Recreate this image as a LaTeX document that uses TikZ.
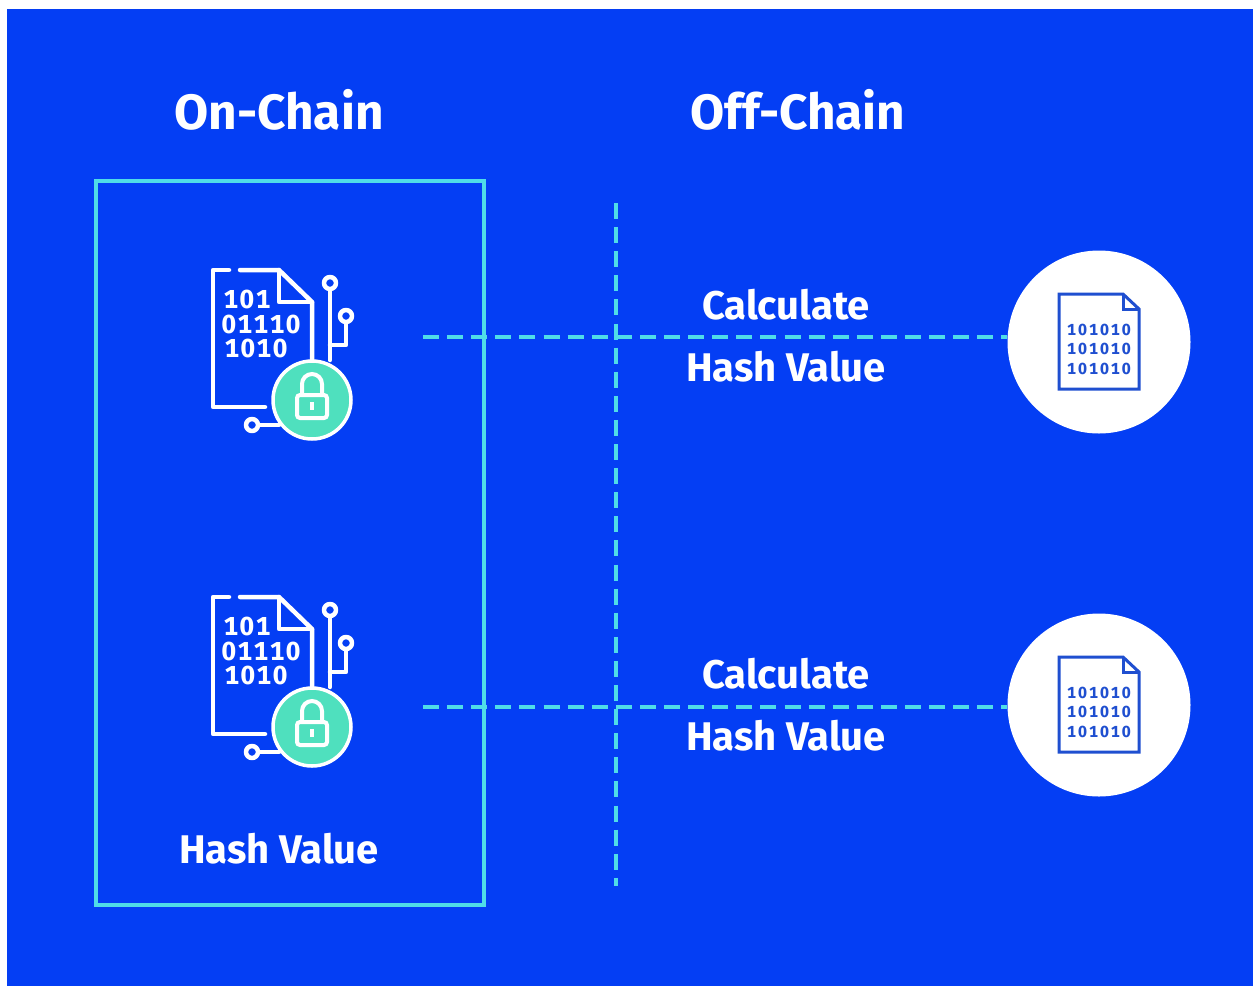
\documentclass[tikz,border=0pt]{standalone}
\usepackage{fontspec}
\setmainfont[Numbers=Monospaced]{Fira Sans}
\definecolor{bgblue}{HTML}{043EF4}
\definecolor{cyanline}{HTML}{4FDDE8}
\definecolor{mint}{HTML}{4FE0BE}
\definecolor{docblue}{HTML}{1F4FD0}
\tikzset{
  x=1pt,y=-1pt,
  title/.style={text=white,font=\bfseries\fontsize{49.5}{52}\selectfont,inner sep=0pt,anchor=center},
  label/.style={text=white,font=\bfseries\fontsize{40}{44}\selectfont,inner sep=0pt,anchor=center},
  dashline/.style={cyanline,line width=3.5pt,dash pattern=on 16pt off 8.1pt},
  iconline/.style={white,line width=4.5pt,line cap=round,line join=round},
  bits/.style={text=white,font=\bfseries\fontsize{26}{26}\selectfont,inner sep=0pt,anchor=center},
  smallbits/.style={text=docblue,font=\bfseries\fontsize{16}{16}\selectfont,inner sep=0pt,anchor=center},
  disc/.style={circle,fill=white,draw=none,inner sep=0pt,minimum size=183pt},
  pics/lockdoc/.style={code={
    \draw[iconline] (34,0) -- (18,0) -- (18,137) -- (70,137);
    \draw[iconline] (45,0) -- (84,0) -- (117,32) -- (117,90);
    \draw[iconline] (84,0) -- (84,32) -- (117,32);
    \node[bits] at (52,29) {1\kern1.5pt0\kern1.5pt1};
    \node[bits] at (66,54) {0\kern1.5pt1\kern1.5pt1\kern1.5pt1\kern1.5pt0};
    \node[bits] at (61,78) {1\kern1.5pt0\kern1.5pt1\kern1.5pt0};
    \draw[iconline] (135,20) -- (135,90);
    \draw[iconline] (135,75) -- (151,75) -- (151,54);
    \draw[iconline,fill=bgblue] (135,13) circle (6pt);
    \draw[iconline,fill=bgblue] (151,46) circle (6pt);
    \draw[iconline] (64,155) -- (84,155);
    \draw[iconline,fill=bgblue] (57,155) circle (6pt);
    \draw[white,line width=3.5pt,fill=mint] (117,130) circle (39pt);
    \draw[white,line width=4pt,rounded corners=3pt,fill=mint] (102,125) rectangle (132,148);
    \draw[white,line width=4pt] (107,125) -- (107,114) arc[start angle=180,end angle=0,radius=10pt] -- (127,125);
    \draw[white,line width=4pt] (117,132) -- (117,140);
  }},
  pics/bindoc/.style={code={
    \draw[docblue,line width=3pt,line join=miter] (0,0) -- (64,0) -- (80,15) -- (80,95) -- (0,95) -- cycle;
    \draw[docblue,line width=3pt,line join=miter] (64,0) -- (64,15) -- (80,15);
    \foreach \yy in {36,55,75}{\node[smallbits] at (40,\yy) {1\kern2pt0\kern2pt1\kern2pt0\kern2pt1\kern2pt0};}
  }},
}
\begin{document}
\begin{tikzpicture}
\useasboundingbox (0,0) rectangle (1253,986);
\fill[white] (0,0) rectangle (1253,986);
\fill[bgblue] (7,9) rectangle (1253,986);
\draw[cyanline,line width=4pt] (96,181) rectangle (484,905);
\node[title] (onchain) at (279,110) {On-Chain};
\node[title] (offchain) at (798,110) {Off-Chain};
\coordinate (vtop) at (616,203);
\coordinate (vbot) at (616,886);
\draw[dashline] (vtop) -- (vbot);
\node[disc] (d1) at (1099,342) {};
\node[disc] (d2) at (1099,705) {};
\coordinate (h1) at (423,337);
\coordinate (h2) at (423,707);
\draw[dashline] (h1) -- (d1.west |- h1);
\draw[dashline] (h2) -- (d2.west |- h2);
\node[label] (c1) at (786,305) {Calculate};
\node[label] (v1) at (786,367) {Hash Value};
\node[label] (c2) at (786,674) {Calculate};
\node[label] (v2) at (786,736) {Hash Value};
\node[label] (hv) at (279,849) {Hash Value};
\pic at (195,270) {lockdoc};
\pic at (195,597) {lockdoc};
\pic at (1059,294) {bindoc};
\pic at (1059,657) {bindoc};
\end{tikzpicture}
\end{document}
